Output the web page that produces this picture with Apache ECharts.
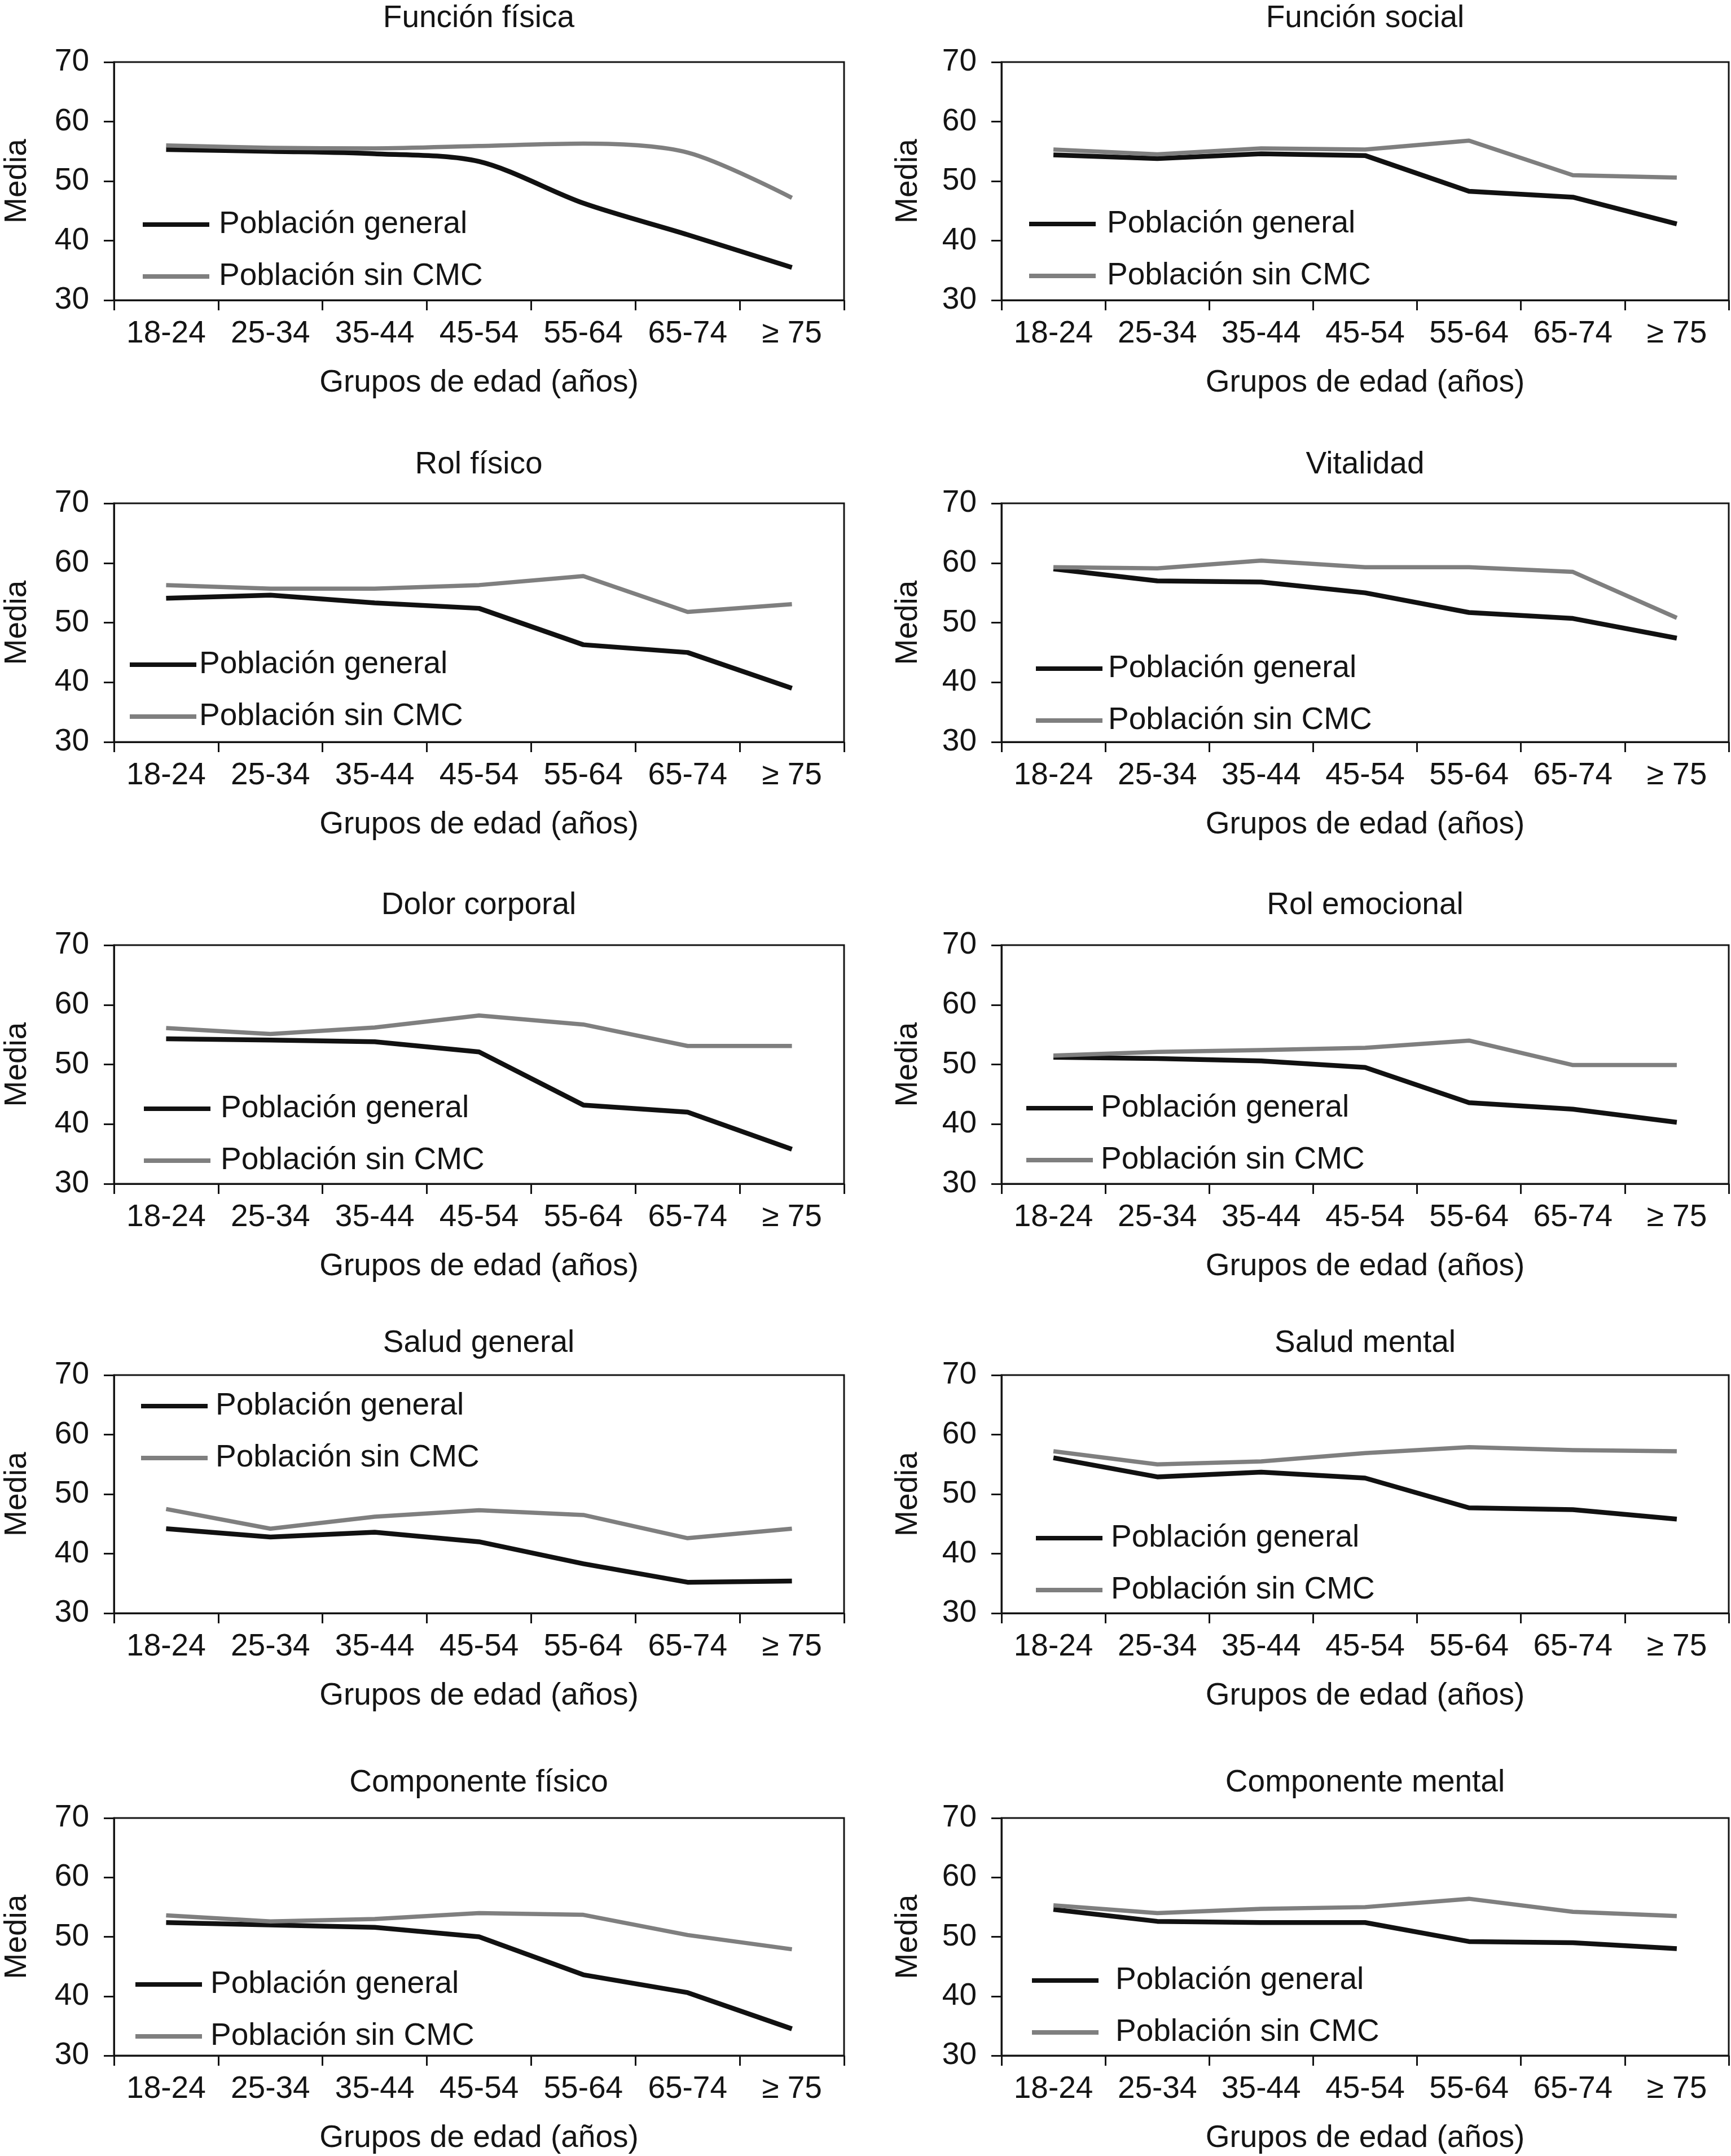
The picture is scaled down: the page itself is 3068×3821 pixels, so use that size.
<!DOCTYPE html>
<html>
<head>
<meta charset="utf-8">
<script src="https://cdn.jsdelivr.net/npm/echarts@6/dist/echarts.min.js"></script>
<style>
html,body{margin:0;padding:0;background:#ffffff;}
#c{width:3068px;height:3821px;}
</style>
</head>
<body>
<div id="c"></div>
<script>
// ---------- DATA ----------
const categories = ['18-24', '25-34', '35-44', '45-54', '55-64', '65-74', '≥ 75'];
const yTicks = [30, 40, 50, 60, 70];
const seriesNames = ['Población general', 'Población sin CMC'];
const titles = ['Función física', 'Función social', 'Rol físico', 'Vitalidad', 'Dolor corporal',
                'Rol emocional', 'Salud general', 'Salud mental', 'Componente físico', 'Componente mental'];
const yAxisName = 'Media';
const xAxisName = 'Grupos de edad (años)';

const funcionFisicaGeneral   = [55.3, 55.0, 54.6, 53.3, 46.3, 41.0, 35.5];
const funcionFisicaSinCMC    = [56.0, 55.6, 55.5, 55.9, 56.3, 54.8, 47.2];
const funcionSocialGeneral   = [54.4, 53.8, 54.6, 54.3, 48.3, 47.3, 42.8];
const funcionSocialSinCMC    = [55.3, 54.5, 55.5, 55.3, 56.8, 51.0, 50.6];
const rolFisicoGeneral       = [54.1, 54.6, 53.3, 52.4, 46.3, 45.0, 39.0];
const rolFisicoSinCMC        = [56.3, 55.7, 55.7, 56.3, 57.8, 51.8, 53.1];
const vitalidadGeneral       = [59.0, 57.0, 56.8, 55.0, 51.7, 50.7, 47.4];
const vitalidadSinCMC        = [59.3, 59.1, 60.4, 59.3, 59.3, 58.5, 50.8];
const dolorCorporalGeneral   = [54.3, 54.1, 53.8, 52.1, 43.2, 42.0, 35.8];
const dolorCorporalSinCMC    = [56.1, 55.1, 56.2, 58.2, 56.7, 53.1, 53.1];
const rolEmocionalGeneral    = [51.2, 51.0, 50.6, 49.5, 43.6, 42.5, 40.3];
const rolEmocionalSinCMC     = [51.5, 52.1, 52.4, 52.8, 54.0, 49.9, 49.9];
const saludGeneralGeneral    = [44.2, 42.8, 43.6, 42.0, 38.3, 35.2, 35.4];
const saludGeneralSinCMC     = [47.5, 44.2, 46.2, 47.3, 46.5, 42.6, 44.2];
const saludMentalGeneral     = [56.1, 52.9, 53.7, 52.7, 47.7, 47.4, 45.8];
const saludMentalSinCMC      = [57.2, 55.0, 55.5, 56.9, 57.9, 57.4, 57.2];
const compFisicoGeneral      = [52.4, 52.0, 51.6, 50.0, 43.6, 40.6, 34.5];
const compFisicoSinCMC       = [53.6, 52.6, 53.0, 54.0, 53.7, 50.3, 47.9];
const compMentalGeneral      = [54.6, 52.6, 52.4, 52.4, 49.2, 49.0, 48.0];
const compMentalSinCMC       = [55.3, 54.0, 54.7, 55.0, 56.4, 54.2, 53.5];

const panelData = [
  [funcionFisicaGeneral, funcionFisicaSinCMC],
  [funcionSocialGeneral, funcionSocialSinCMC],
  [rolFisicoGeneral, rolFisicoSinCMC],
  [vitalidadGeneral, vitalidadSinCMC],
  [dolorCorporalGeneral, dolorCorporalSinCMC],
  [rolEmocionalGeneral, rolEmocionalSinCMC],
  [saludGeneralGeneral, saludGeneralSinCMC],
  [saludMentalGeneral, saludMentalSinCMC],
  [compFisicoGeneral, compFisicoSinCMC],
  [compMentalGeneral, compMentalSinCMC]
];

// ---------- LAYOUT ----------
const colLeft = [201, 1775];
const colWidth = [1295, 1289];
const rowTop = [110, 892, 1675, 2437, 3222];
const rowHeight = [422, 423, 423, 422, 424];
const titleCenterY = [33, 824, 1605, 2381, 3160];
const yNameGap = [141, 135];
// legend: [left, centre y of first item, extra text padding]
const legendPos = [
  [253, 398, 12], [1824, 397, 15],
  [230, 1178, 0], [1836, 1185, 5],
  [255, 1965, 13], [1819, 1964, 9],
  [250, 2492, 9], [1836, 2726, 10],
  [240, 3517, 10], [1829, 3510, 25]
];
const smoothing = [0.3, false, false, false, false, false, false, false, false, false];

const FONT = "'Liberation Sans', Arial, sans-serif";
const INK = '#141414';
const lineColors = ['#111111', '#7f7f7f'];
const lineWidths = [8.5, 7.5];
const FS = 55;

const grids = [], xAxes = [], yAxes = [], series = [], legends = [], titleList = [];

for (let i = 0; i < 10; i++) {
  const col = i % 2, row = Math.floor(i / 2);
  grids.push({
    left: colLeft[col], top: rowTop[row], width: colWidth[col], height: rowHeight[row],
    show: true, borderColor: INK, borderWidth: 3, backgroundColor: 'transparent', containLabel: false
  });
  xAxes.push({
    type: 'category', gridIndex: i, data: categories, boundaryGap: true,
    name: xAxisName, nameLocation: 'middle', nameGap: 117,
    nameTextStyle: { fontFamily: FONT, fontSize: FS, color: INK, lineHeight: 60 },
    axisLine: { show: true, lineStyle: { color: INK, width: 3 } },
    axisTick: { show: true, length: 18, inside: false, interval: 0, lineStyle: { color: INK, width: 3 } },
    axisLabel: { interval: 0, margin: 30, fontFamily: FONT, fontSize: FS, color: INK, lineHeight: 60 },
    splitLine: { show: false }
  });
  yAxes.push({
    type: 'value', gridIndex: i, min: yTicks[0], max: yTicks[yTicks.length - 1], interval: 10,
    name: yAxisName, nameLocation: 'middle', nameRotate: 90, nameGap: yNameGap[col],
    nameTextStyle: { fontFamily: FONT, fontSize: FS, color: INK, lineHeight: 60 },
    axisLine: { show: true, lineStyle: { color: INK, width: 3 } },
    axisTick: { show: true, length: 18, inside: false, lineStyle: { color: INK, width: 3 } },
    axisLabel: { margin: 44, fontFamily: FONT, fontSize: FS, color: INK },
    splitLine: { show: false }
  });
  titleList.push({
    text: titles[i],
    left: colLeft[col] + colWidth[col] / 2, top: titleCenterY[row] - 30,
    textAlign: 'center', padding: 0,
    textStyle: { fontFamily: FONT, fontSize: FS, fontWeight: 'normal', color: INK, lineHeight: 60 }
  });
  for (let s = 0; s < 2; s++) {
    series.push({
      type: 'line', name: seriesNames[s], xAxisIndex: i, yAxisIndex: i,
      data: panelData[i][s], symbol: 'none', smooth: smoothing[i],
      lineStyle: { color: lineColors[s], width: lineWidths[s], cap: 'butt', join: 'round' },
      itemStyle: { color: lineColors[s] },
      animation: false
    });
  }
  const lp = legendPos[i];
  legends.push({
    orient: 'vertical', left: lp[0], top: lp[1] - 30, padding: 0, itemGap: 32,
    itemWidth: 118, itemHeight: 8, icon: 'rect',
    data: seriesNames.map((n, s) => ({ name: n, itemStyle: { color: lineColors[s] } })),
    textStyle: { fontFamily: FONT, fontSize: FS, color: INK, lineHeight: 60, padding: [0, 0, 0, lp[2]] },
    selectedMode: false
  });
}

const chart = echarts.init(document.getElementById('c'), null, { renderer: 'canvas' });
chart.setOption({
  backgroundColor: '#ffffff',
  animation: false,
  title: titleList,
  grid: grids,
  xAxis: xAxes,
  yAxis: yAxes,
  legend: legends,
  series: series
});
</script>
</body>
</html>
